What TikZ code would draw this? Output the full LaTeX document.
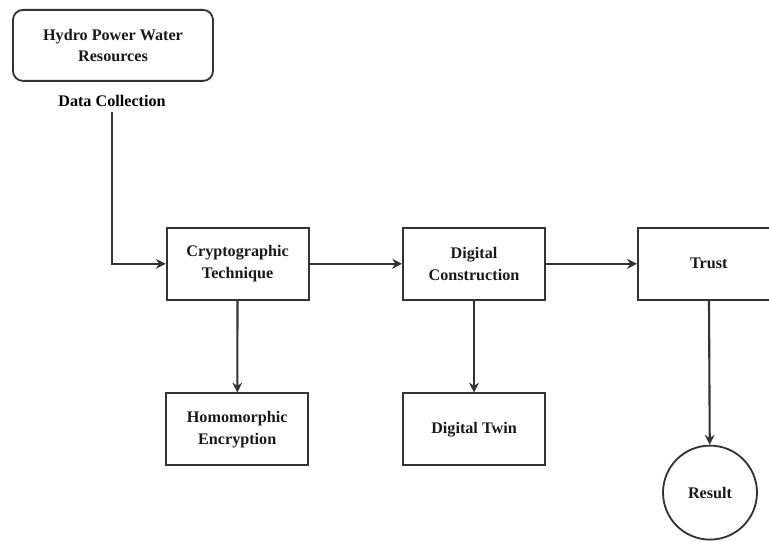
\documentclass[tikz,border=0pt]{standalone}
\usepackage{fontspec}
\setmainfont{Liberation Serif}
\usetikzlibrary{arrows.meta}
\definecolor{BoxGray}{HTML}{333333}

\begin{document}
\begin{tikzpicture}[line width=1.3pt,draw=BoxGray,
  stage/.style={draw=BoxGray,line width=1.3pt,minimum width=3.55cm,minimum height=1.8cm,
    align=center,font=\fontsize{11.5}{15.5}\selectfont\bfseries,text=black!90},
  flow/.style={line width=1.5pt,-{Stealth[length=7pt,width=7pt]}}]
\useasboundingbox (0,0) rectangle (19.225,13.525);
\node[stage,rounded corners=0.25cm,minimum width=5cm,minimum height=1.775cm] (hydro) at (2.825,12.39) {Hydro Power Water\\Resources};
\node[font=\fontsize{11.5}{15.5}\selectfont\bfseries,anchor=center] (collect) at (2.8,11.0) {Data Collection};
\node[stage] (crypto) at (5.94,6.93) {Cryptographic\\Technique};
\node[stage] (dcons) at (11.85,6.93) {Digital\\Construction};
\node[stage] (trust) at (17.72,6.93) {Trust};
\node[stage] (homo) at (5.93,2.79) {Homomorphic\\Encryption};
\node[stage] (twin) at (11.85,2.79) {Digital Twin};
\node[stage,circle,minimum size=2.35cm,minimum height=2.35cm,minimum width=2.35cm] (result) at (17.75,1.21) {Result};
\draw[flow] (collect.south) |- (crypto.west);
\draw[flow] (crypto) -- (dcons);
\draw[flow] (dcons) -- (trust);
\draw[flow] (crypto) -- (homo);
\draw[flow] (dcons) -- (twin);
\draw[flow] (trust) -- (result);
\end{tikzpicture}
\end{document}
